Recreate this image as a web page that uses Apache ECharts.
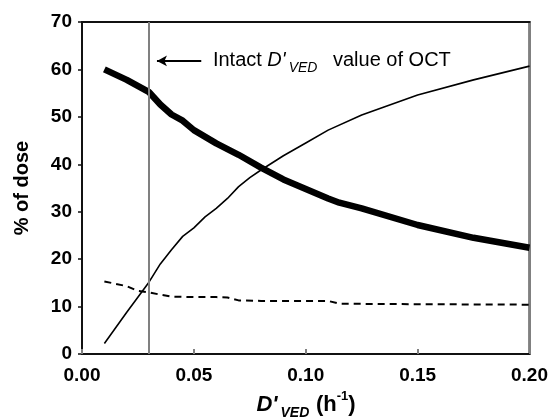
<!DOCTYPE html>
<html>
<head>
<meta charset="utf-8">
<script src="https://cdn.jsdelivr.net/npm/echarts@6/dist/echarts.min.js"></script>
<style>
  html, body { margin: 0; padding: 0; background: #fff; }
  #chart { width: 551px; height: 418px; }
</style>
</head>
<body>
<div id="chart"></div>
<script>
// 数据
const thickX = [0.01, 0.02, 0.03, 0.035, 0.04, 0.045, 0.05, 0.06, 0.07, 0.08, 0.09, 0.1, 0.11, 0.115, 0.125, 0.15, 0.175, 0.2];
const thickY = [60, 57.8, 55.2, 52.6, 50.5, 49.2, 47.2, 44.4, 42, 39.3, 36.8, 34.8, 32.8, 31.9, 30.7, 27.2, 24.5, 22.4];

const thinX = [0.01, 0.02, 0.03, 0.035, 0.04, 0.045, 0.05, 0.055, 0.06, 0.065, 0.07, 0.075, 0.08, 0.09, 0.1, 0.11, 0.125, 0.15, 0.175, 0.2];
const thinY = [2.2, 8.8, 15.2, 19, 22, 24.8, 26.6, 28.9, 30.7, 32.8, 35.3, 37.2, 38.8, 41.8, 44.5, 47.2, 50.4, 54.6, 57.8, 60.7];

const dashX = [0.01, 0.02, 0.025, 0.03, 0.035, 0.04, 0.05, 0.06, 0.065, 0.07, 0.08, 0.1, 0.11, 0.115, 0.15, 0.2];
const dashY = [15.3, 14.3, 13.3, 13, 12.5, 12.1, 12, 12, 11.9, 11.3, 11.2, 11.2, 11.2, 10.6, 10.5, 10.4];

const xTicks = [0, 0.05, 0.1, 0.15, 0.2];
const yTicks = [0, 10, 20, 30, 40, 50, 60, 70];

const intactD = 0.03;                 // 竖线位置
const arrowFrom = [0.0533, 61.8];
const arrowTo = [0.0335, 61.8];

const FONT = 'Liberation Sans, Arial, sans-serif';
const xMin = xTicks[0], xMax = xTicks[xTicks.length - 1];
const yMin = yTicks[0], yMax = yTicks[yTicks.length - 1];

function zip(xs, ys) {
  return xs.map((x, i) => [x, ys[i]]);
}

const chart = echarts.init(document.getElementById('chart'));

chart.setOption({
  animation: false,
  grid: {
    left: 82, right: 19, top: 22, bottom: 64,
    show: true, borderColor: '#111', borderWidth: 2, backgroundColor: '#fff'
  },
  graphic: [
    {
      type: 'text',
      x: 22, y: 188,
      rotation: Math.PI / 2,
      style: {
        text: '% of dose',
        fontSize: 20, fontWeight: 'bold', fontFamily: FONT, fill: '#000',
        align: 'center', verticalAlign: 'middle'
      }
    },
    {
      type: 'text',
      x: 306, y: 405,
      style: {
        text: "{d|D'}{sub|VED}  {b|(h}{sup|-1}{b|)}",
        fill: '#000',
        align: 'center', verticalAlign: 'middle',
        rich: {
          d: { fontSize: 22, fontWeight: 'bold', fontStyle: 'italic', fontFamily: FONT, verticalAlign: 'middle', lineHeight: 30 },
          sub: { fontSize: 14, fontWeight: 'bold', fontStyle: 'italic', fontFamily: FONT, verticalAlign: 'bottom', lineHeight: 30, padding: [0, 0, 0, 3] },
          b: { fontSize: 22, fontWeight: 'bold', fontFamily: FONT, verticalAlign: 'middle', lineHeight: 30 },
          sup: { fontSize: 13, fontWeight: 'bold', fontFamily: FONT, verticalAlign: 'top', lineHeight: 30 }
        }
      }
    }
  ],
  xAxis: [
    {
      type: 'value',
      min: xMin,
      max: xMax,
      interval: 0.05,
      splitLine: { show: true, lineStyle: { color: 'rgba(0,0,0,0)' } },
      axisLine: { show: true, onZero: false, lineStyle: { color: '#111', width: 2 } },
      axisTick: { show: true, inside: true, length: 5, lineStyle: { color: '#808080', width: 2 } },
      axisLabel: {
        margin: 12,
        color: '#000',
        fontSize: 19,
        fontWeight: 'bold',
        fontFamily: FONT,
        formatter: v => v.toFixed(2)
      }
    },
    {
      type: 'value',
      position: 'top',
      min: xMin,
      max: xMax,
      axisLine: { show: true, onZero: false, lineStyle: { color: '#111', width: 2 } },
      axisTick: { show: false },
      axisLabel: { show: false },
      splitLine: { show: false }
    }
  ],
  yAxis: [
    {
      type: 'value',
      min: yMin,
      max: yMax,
      interval: 10,
      splitLine: { show: true, lineStyle: { color: 'rgba(0,0,0,0)' } },
      axisLine: { show: true, onZero: false, lineStyle: { color: '#111', width: 2 } },
      axisTick: { show: true, length: 4, lineStyle: { color: '#111', width: 1.5 } },
      axisLabel: {
        margin: 10,
        color: '#000',
        fontSize: 19,
        fontWeight: 'bold',
        fontFamily: FONT
      }
    },
    {
      type: 'value',
      position: 'right',
      min: yMin,
      max: yMax,
      axisLine: { show: true, onZero: false, lineStyle: { color: '#808080', width: 2 } },
      axisTick: { show: false },
      axisLabel: { show: false },
      splitLine: { show: false }
    }
  ],
  series: [
    {
      name: 'dashed',
      type: 'line',
      data: zip(dashX, dashY),
      showSymbol: false,
      lineStyle: { color: '#000', width: 2, type: [7, 5] }
    },
    {
      name: 'thin',
      type: 'line',
      data: zip(thinX, thinY),
      showSymbol: false,
      lineStyle: { color: '#000', width: 1.6 }
    },
    {
      name: 'thick',
      type: 'line',
      data: zip(thickX, thickY),
      showSymbol: false,
      lineStyle: { color: '#000', width: 6.5 },
      markLine: {
        silent: true,
        symbol: 'none',
        label: { show: false },
        data: [
          { xAxis: intactD, lineStyle: { color: '#808080', width: 2, type: 'solid' } },
          [
            { coord: arrowFrom, symbol: 'none', lineStyle: { color: '#000', width: 2, type: 'solid' } },
            { coord: arrowTo, symbol: 'arrow', symbolSize: [8, 10] }
          ]
        ]
      },
      markPoint: {
        silent: true,
        symbol: 'circle',
        symbolSize: 0,
        data: [{ coord: [0.0585, 61.8] }],
        label: {
          show: true,
          position: 'right',
          distance: 0,
          color: '#000',
          formatter: "{t|Intact }{d|D'}{sub|VED}{t| value of OCT}",
          rich: {
            t: { fontSize: 20, fontFamily: FONT, color: '#000', verticalAlign: 'middle', lineHeight: 28 },
            d: { fontSize: 20, fontStyle: 'italic', fontFamily: FONT, color: '#000', verticalAlign: 'middle', lineHeight: 28 },
            sub: { fontSize: 14, fontStyle: 'italic', fontFamily: FONT, color: '#000', verticalAlign: 'bottom', lineHeight: 28, padding: [0, 10, 0, 3] }
          }
        }
      }
    }
  ]
});
</script>
</body>
</html>
